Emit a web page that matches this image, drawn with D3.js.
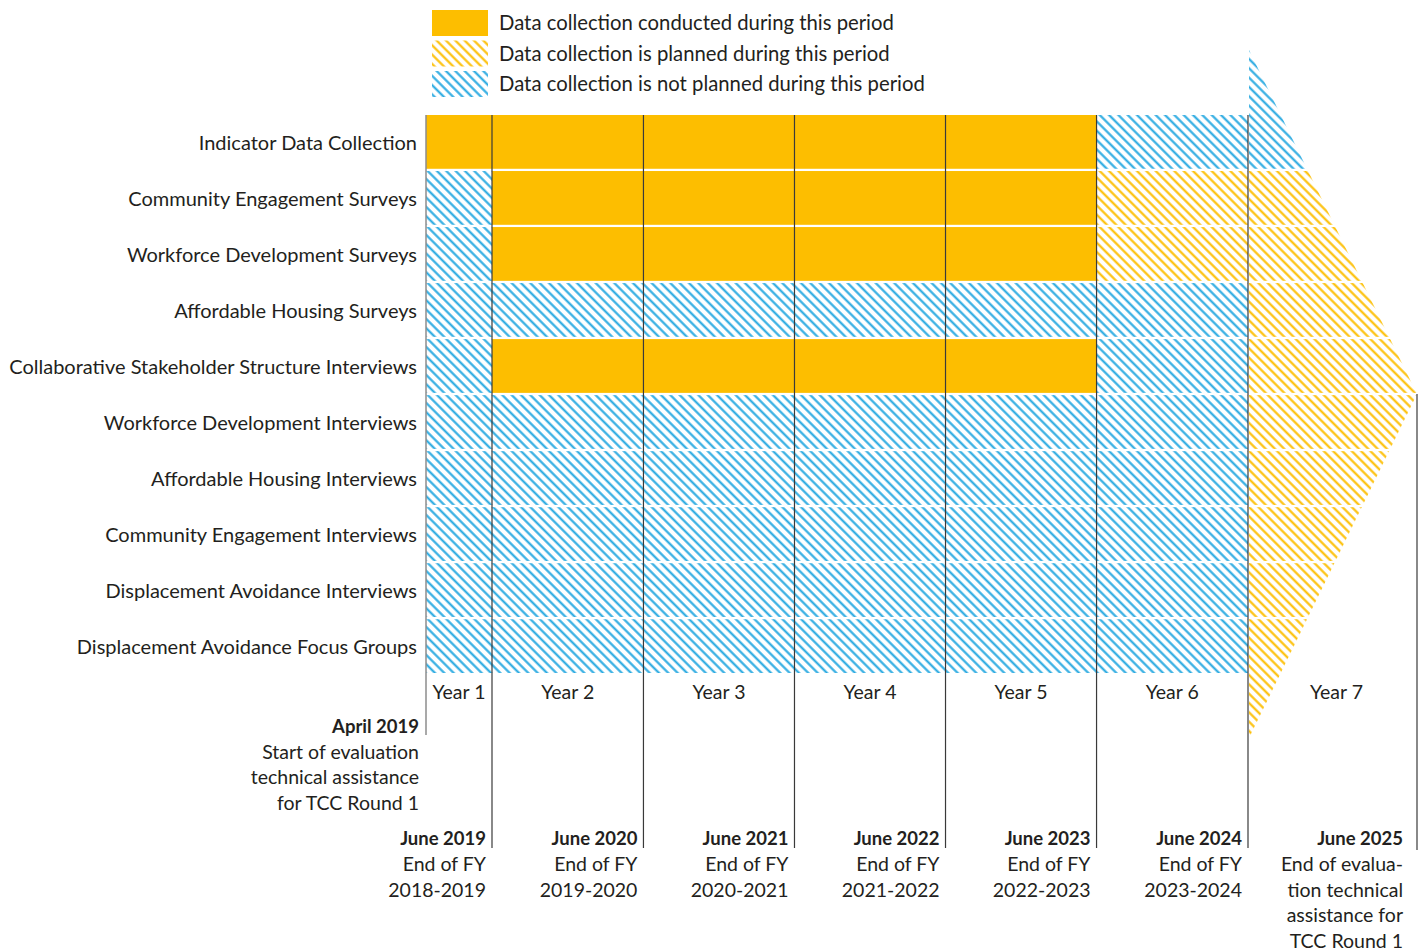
<!DOCTYPE html>
<html>
<head>
<meta charset="utf-8">
<script src="https://cdn.jsdelivr.net/npm/d3@7"></script>
<style>
  body { margin: 0; background: #fff; }
  text { font-family: Lato, "Open Sans", sans-serif; fill: #231f20; }
</style>
</head>
<body>
<script>
var activities = [
  "Indicator Data Collection",
  "Community Engagement Surveys",
  "Workforce Development Surveys",
  "Affordable Housing Surveys",
  "Collaborative Stakeholder Structure Interviews",
  "Workforce Development Interviews",
  "Affordable Housing Interviews",
  "Community Engagement Interviews",
  "Displacement Avoidance Interviews",
  "Displacement Avoidance Focus Groups"
];

var yearLabels = ["Year 1", "Year 2", "Year 3", "Year 4", "Year 5", "Year 6", "Year 7"];

// c = conducted, p = planned, n = not planned ; one letter per year
var statusCodes = [
  "cccccnn",
  "nccccpp",
  "nccccpp",
  "nnnnnnp",
  "nccccnp",
  "nnnnnnp",
  "nnnnnnp",
  "nnnnnnp",
  "nnnnnnp",
  "nnnnnnp"
];

// period boundaries: start of TA, then each end of fiscal year
var milestones = ["2019-04-01", "2019-06-30", "2020-06-30", "2021-06-30",
  "2022-06-30", "2023-06-30", "2024-06-30", "2025-06-30"];

var startNote = ["April 2019", "Start of evaluation", "technical assistance", "for TCC Round 1"];

var endDates = ["June 2019", "June 2020", "June 2021", "June 2022", "June 2023", "June 2024", "June 2025"];
var endNotes = [
  ["End of FY", "2018-2019"],
  ["End of FY", "2019-2020"],
  ["End of FY", "2020-2021"],
  ["End of FY", "2021-2022"],
  ["End of FY", "2022-2023"],
  ["End of FY", "2023-2024"],
  ["End of evalua-", "tion technical", "assistance for", "TCC Round 1"]
];

var legendItems = [
  { key: "c", label: "Data collection conducted during this period" },
  { key: "p", label: "Data collection is planned during this period" },
  { key: "n", label: "Data collection is not planned during this period" }
];

var W = 1424, H = 952;
var ORANGE = "#fdbe00", BLUE = "#27a9e1";

var parse = d3.timeParse("%Y-%m-%d");
var dates = milestones.map(parse);

// year 1 is a short stub, years 2-6 equal, year 7 holds the arrow
var x = d3.scaleTime()
  .domain([dates[0], dates[1], dates[6], dates[7]])
  .range([426, 492, 1248, 1417]);

var y = d3.scaleBand()
  .domain(activities)
  .range([115, 673])
  .paddingInner(0.04)
  .paddingOuter(0);

var svg = d3.select("body").append("svg")
  .attr("width", W)
  .attr("height", H);

var defs = svg.append("defs");

function hatch(id, color, gap, lw) {
  var p = defs.append("pattern")
    .attr("id", id)
    .attr("patternUnits", "userSpaceOnUse")
    .attr("width", gap)
    .attr("height", gap)
    .attr("patternTransform", "rotate(-45)");
  p.append("rect").attr("width", gap).attr("height", gap).attr("fill", "#fff");
  p.append("line")
    .attr("x1", gap / 2).attr("x2", gap / 2)
    .attr("y1", 0).attr("y2", gap)
    .attr("stroke", color)
    .attr("stroke-width", lw);
}
hatch("hatch-n", BLUE, 6.6, 2.1);
hatch("hatch-p", ORANGE, 6.6, 2.1);

function fillFor(code) {
  if (code === "c") return ORANGE;
  if (code === "p") return "url(#hatch-p)";
  return "url(#hatch-n)";
}

// arrow for year 7
var x6 = x(dates[6]) + 1, x7 = x(dates[7]);
var tipY = y(activities[5]) - 1;
var half = 344;
defs.append("clipPath").attr("id", "arrow")
  .append("polygon")
  .attr("points", [[x6, tipY - half], [x7, tipY], [x6, tipY + half]].map(function(p) { return p.join(","); }).join(" "));

// cells
var cells = [];
activities.forEach(function(a, i) {
  statusCodes[i].split("").forEach(function(code, j) {
    cells.push({ row: a, i: i, j: j, code: code });
  });
});

var grid = svg.append("g");
grid.selectAll("rect.cell")
  .data(cells.filter(function(d) { return d.j < 6; }))
  .enter().append("rect")
  .attr("class", "cell")
  .attr("x", function(d) { return x(dates[d.j]); })
  .attr("width", function(d) { return x(dates[d.j + 1]) - x(dates[d.j]); })
  .attr("y", function(d) { return y(d.row); })
  .attr("height", y.bandwidth())
  .attr("fill", function(d) { return fillFor(d.code); });

var last = activities.length - 1;
svg.append("g").attr("clip-path", "url(#arrow)")
  .selectAll("rect")
  .data(cells.filter(function(d) { return d.j === 6; }))
  .enter().append("rect")
  .attr("x", x6)
  .attr("width", x7 - x6)
  .attr("y", function(d) { return d.i === 0 ? 0 : y(d.row); })
  .attr("height", function(d) {
    var top = d.i === 0 ? 0 : y(d.row);
    var bottom = d.i === last ? H : y(d.row) + y.bandwidth();
    return bottom - top;
  })
  .attr("fill", function(d) { return fillFor(d.code); });

// vertical period lines
svg.append("line")
  .attr("x1", x(dates[0])).attr("x2", x(dates[0]))
  .attr("y1", 115).attr("y2", 735)
  .attr("stroke", "#8c8c8c").attr("stroke-width", 1.5);

svg.selectAll("line.fy")
  .data(dates.slice(1, 7))
  .enter().append("line")
  .attr("class", "fy")
  .attr("x1", function(d) { return x(d); })
  .attr("x2", function(d) { return x(d); })
  .attr("y1", 115).attr("y2", 848)
  .attr("stroke", "#3a3a3a").attr("stroke-width", 1.2);

svg.append("line")
  .attr("x1", x7).attr("x2", x7)
  .attr("y1", tipY).attr("y2", 850)
  .attr("stroke", "#3a3a3a").attr("stroke-width", 1.2);

// row labels
svg.selectAll("text.row")
  .data(activities)
  .enter().append("text")
  .attr("class", "row")
  .attr("x", 417)
  .attr("y", function(d) { return y(d) + y.bandwidth() / 2 + 8; })
  .attr("text-anchor", "end")
  .style("font-size", "20px")
  .text(function(d) { return d; });

// year labels
svg.selectAll("text.year")
  .data(yearLabels)
  .enter().append("text")
  .attr("class", "year")
  .attr("x", function(d, j) { return (x(dates[j]) + x(dates[j + 1])) / 2 + (j === 6 ? 4 : 0); })
  .attr("y", 699)
  .attr("text-anchor", "middle")
  .style("font-size", "19.5px")
  .text(function(d) { return d; });

// start note
var sn = svg.append("text")
  .attr("x", 419)
  .attr("text-anchor", "end")
  .style("font-size", "19px");
startNote.forEach(function(t, k) {
  sn.append("tspan")
    .attr("x", 419)
    .attr("y", 733 + k * 25.6)
    .style("font-weight", k === 0 ? 700 : 400)
    .style("font-size", k === 0 ? "18.5px" : "19.5px")
    .text(t);
});

// end-of-period notes
endDates.forEach(function(dt, j) {
  var xr = x(dates[j + 1]) - (j === 6 ? 14 : 6);
  var t = svg.append("text")
    .attr("text-anchor", "end")
    .style("font-size", "19.5px");
  t.append("tspan").attr("x", xr).attr("y", 845)
    .style("font-weight", 700).style("font-size", "18.5px")
    .text(dt);
  endNotes[j].forEach(function(line, k) {
    t.append("tspan").attr("x", xr).attr("y", 871 + k * 25.6).text(line);
  });
});

// legend
var lg = svg.append("g").attr("transform", "translate(432,10)");
var li = lg.selectAll("g")
  .data(legendItems)
  .enter().append("g")
  .attr("transform", function(d, k) { return "translate(0," + k * 30.5 + ")"; });
li.append("rect")
  .attr("width", 56).attr("height", 26)
  .attr("fill", function(d) { return fillFor(d.key); });
li.append("text")
  .attr("x", 67).attr("y", 20)
  .style("font-size", "20.3px")
  .text(function(d) { return d.label; });
</script>
</body>
</html>
